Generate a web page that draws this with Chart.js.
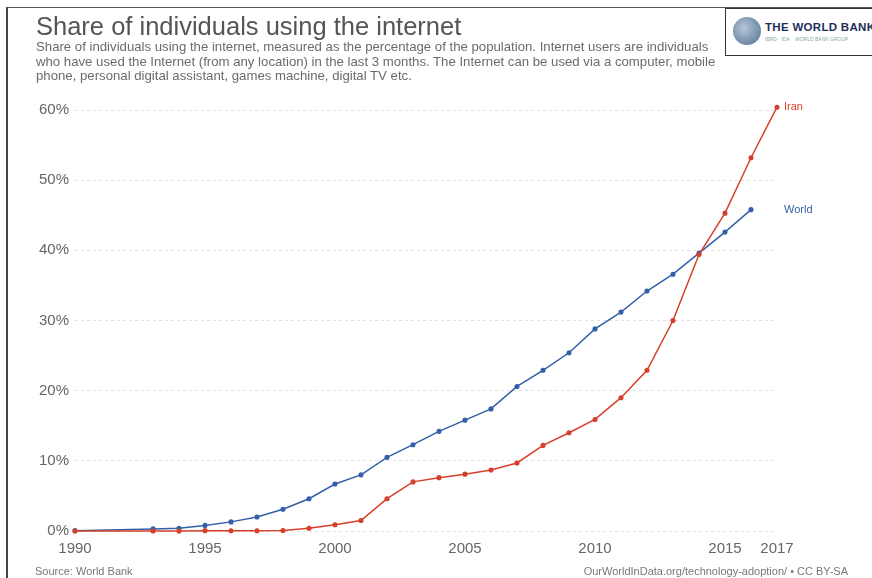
<!DOCTYPE html>
<html>
<head>
<meta charset="utf-8">
<script src="https://cdn.jsdelivr.net/npm/chart.js@4"></script>
<style>
  body { margin: 0; background: #fff; font-family: "Liberation Sans", Arial, sans-serif; }
  #page { position: relative; width: 872px; height: 578px; overflow: hidden; }
  #frame { position: absolute; left: 6px; top: 7px; right: -2px; bottom: -2px; border-left: 2px solid #444; border-top: 1px solid #555; }
  #title { position: absolute; left: 36px; top: 12px; font-size: 25.5px; color: #555; white-space: nowrap; }
  #subtitle { position: absolute; left: 36px; top: 40px; font-size: 13.2px; line-height: 14.5px; color: #6b6b6b; white-space: nowrap; }
  #logo { position: absolute; left: 725px; top: 8px; width: 160px; height: 46px; border: 1px solid #333; background: #fff; z-index: 2; }
  #globe { position: absolute; left: 7px; top: 8px; width: 28px; height: 28px; border-radius: 50%; background: radial-gradient(circle at 40% 40%, #b4c6d6, #4f6f8d); }
  #wbname { position: absolute; left: 39px; top: 12px; font-size: 11.5px; font-weight: bold; color: #1d2f5a; letter-spacing: 0.3px; white-space: nowrap; }
  #wbtag { position: absolute; left: 39px; top: 27px; font-size: 5px; color: #8aa; white-space: nowrap; }
  #source { position: absolute; left: 35px; top: 565px; font-size: 11px; color: #777; }
  #credit { position: absolute; right: 24px; top: 565px; font-size: 11px; color: #777; white-space: nowrap; }
  #chart { position: absolute; left: 0; top: 0; }
</style>
</head>
<body>
<div id="page">
  <div id="frame"></div>
  <canvas id="chart" width="872" height="578"></canvas>
  <div id="title">Share of individuals using the internet</div>
  <div id="subtitle">Share of individuals using the internet, measured as the percentage of the population. Internet users are individuals<br>who have used the Internet (from any location) in the last 3 months. The Internet can be used via a computer, mobile<br>phone, personal digital assistant, games machine, digital TV etc.</div>
  <div id="logo"><div id="globe"></div><div id="wbname">THE WORLD BANK</div><div id="wbtag">IBRD · IDA &nbsp;&nbsp; WORLD BANK GROUP</div></div>
  <div id="source">Source: World Bank</div>
  <div id="credit">OurWorldInData.org/technology-adoption/ • CC BY-SA</div>
</div>
<script>
const worldYears = [1990, 1993, 1994, 1995, 1996, 1997, 1998, 1999, 2000, 2001, 2002, 2003, 2004, 2005, 2006, 2007, 2008, 2009, 2010, 2011, 2012, 2013, 2014, 2015, 2016];
const worldValues = [0.05, 0.3, 0.4, 0.8, 1.3, 2.0, 3.1, 4.6, 6.7, 8.0, 10.5, 12.3, 14.2, 15.8, 17.4, 20.6, 22.9, 25.4, 28.8, 31.2, 34.2, 36.6, 39.6, 42.6, 45.8];

const iranYears = [1990, 1993, 1994, 1995, 1996, 1997, 1998, 1999, 2000, 2001, 2002, 2003, 2004, 2005, 2006, 2007, 2008, 2009, 2010, 2011, 2012, 2013, 2014, 2015, 2016, 2017];
const iranValues = [0, 0, 0, 0.05, 0.03, 0.04, 0.06, 0.4, 0.9, 1.5, 4.6, 7.0, 7.6, 8.1, 8.7, 9.7, 12.2, 14.0, 15.9, 19.0, 22.9, 30.0, 39.4, 45.3, 53.2, 60.4];

const xTicks = [1990, 1995, 2000, 2005, 2010, 2015, 2017];
const yTicks = [0, 10, 20, 30, 40, 50, 60];

const worldColor = '#3360a9';
const iranColor = '#d6402b';

const toPoints = (xs, ys) => xs.map((x, i) => ({ x: x, y: ys[i] }));

const endLabels = {
  id: 'endLabels',
  afterDatasetsDraw(chart) {
    const ctx = chart.ctx;
    ctx.save();
    ctx.font = '11px "Liberation Sans", Arial, sans-serif';
    ctx.textBaseline = 'middle';
    chart.data.datasets.forEach((ds, i) => {
      const pts = chart.getDatasetMeta(i).data;
      const last = pts[pts.length - 1];
      ctx.fillStyle = ds.borderColor;
      ctx.fillText(ds.label, chart.chartArea.right + 7, last.y);
    });
    ctx.restore();
  }
};

new Chart(document.getElementById('chart').getContext('2d'), {
  type: 'line',
  data: {
    datasets: [{
      label: 'Iran',
      data: toPoints(iranYears, iranValues),
      borderColor: iranColor,
      backgroundColor: iranColor,
      borderWidth: 1.5,
      pointRadius: 1.8,
      fill: false
    }, {
      label: 'World',
      data: toPoints(worldYears, worldValues),
      borderColor: worldColor,
      backgroundColor: worldColor,
      borderWidth: 1.5,
      pointRadius: 1.8,
      fill: false
    }]
  },
  options: {
    responsive: false,
    animation: false,
    clip: false,
    layout: { padding: { left: 0, top: 110, right: 95, bottom: 17 } },
    plugins: { legend: { display: false }, tooltip: { enabled: false } },
    scales: {
      x: {
        type: 'linear',
        min: 1990,
        max: 2017,
        afterBuildTicks: (scale) => { scale.ticks = xTicks.map(v => ({ value: v })); },
        afterFit: (scale) => { scale.height = 30; },
        grid: { display: false, drawTicks: false },
        border: { display: false },
        ticks: {
          padding: 9,
          color: '#666',
          font: { family: '"Liberation Sans", Arial, sans-serif', size: 15 },
          maxRotation: 0,
          callback: (v) => String(v)
        }
      },
      y: {
        min: 0,
        max: 60,
        afterBuildTicks: (scale) => { scale.ticks = yTicks.map(v => ({ value: v })); },
        afterFit: (scale) => { scale.width = 75; },
        grid: { color: '#e2e2e2', drawTicks: false, lineWidth: 1 },
        border: { display: false, dash: [3, 3] },
        ticks: {
          padding: 6,
          color: '#666',
          font: { family: '"Liberation Sans", Arial, sans-serif', size: 15 },
          callback: (v) => v + '%'
        }
      }
    }
  },
  plugins: [endLabels]
});
</script>
</body>
</html>
